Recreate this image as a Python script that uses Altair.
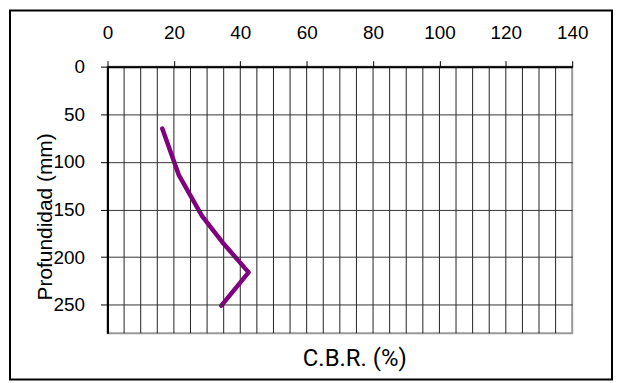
import altair as alt
import pandas as pd

# Data
cbr = [16.5, 21.5, 28.5, 35.0, 42.5, 34.3]        # C.B.R. (%)
depth = [65, 114, 157, 186, 216, 251]              # Profundidad (mm)
x_ticks = [0, 20, 40, 60, 80, 100, 120, 140]
y_ticks = [0, 50, 100, 150, 200, 250]
x_grid = [5, 10, 15, 20, 25, 30, 35, 40, 45, 50, 55, 60, 65, 70, 75, 80,
          85, 90, 95, 100, 105, 110, 115, 120, 125, 130, 135]

df = pd.DataFrame({"cbr": cbr, "depth": depth, "order": list(range(len(cbr)))})
grid_df = pd.DataFrame({"gx": x_grid})

xscale = alt.Scale(domain=[0, 140], nice=False, zero=False)
yscale = alt.Scale(domain=[0, 280], nice=False, reverse=True, zero=False)

x_axis = alt.Axis(
    orient="top", values=x_ticks, grid=False,
    domainColor="black", domainWidth=2,
    tickColor="black", tickSize=6, tickWidth=1,
    labelFont="Liberation Sans", labelFontSize=19, labelColor="black",
    labelPadding=22, labelBaseline="alphabetic", labelFlush=False, labelOverlap=False,
    title="C.B.R. (%)", titleFont="Roboto", titleFontSize=24, titleFontWeight="normal",
    titleColor="black", titleX=248, titleY=300.7, titleBaseline="alphabetic",
    titleAlign="center", zindex=1,
)
y_axis = alt.Axis(
    orient="left", values=y_ticks, grid=True, gridColor="#333333", gridWidth=1, gridOpacity=1,
    domainColor="black", domainWidth=2,
    tickColor="black", tickSize=7, tickWidth=1,
    labelFont="Liberation Sans", labelFontSize=19, labelColor="black",
    labelPadding=16, labelFlush=False, labelOverlap=False,
    title="Profundidad (mm)", titleFont="Liberation Sans", titleFontSize=21,
    titleFontWeight="normal", titleColor="black", titleX=-56.6, titleY=150.5,
    titleBaseline="alphabetic", titleAlign="center", titleAngle=270, zindex=1,
)

vgrid = alt.Chart(grid_df).mark_rule(color="#222222", strokeWidth=1).encode(
    x=alt.X("gx:Q", scale=xscale, axis=x_axis),
)

line = alt.Chart(df).mark_line(color="#800080", strokeWidth=4.5, strokeCap="round",
                               strokeJoin="round").encode(
    x=alt.X("cbr:Q", scale=xscale, axis=x_axis),
    y=alt.Y("depth:Q", scale=yscale, axis=y_axis),
    order="order:Q",
)

frame = alt.Chart(pd.DataFrame({"a": [0]})).mark_rect(
    filled=False, stroke="black", strokeWidth=2, fillOpacity=0
).encode(
    x=alt.value(-98), x2=alt.value(507), y=alt.value(-56.5), y2=alt.value(314.5)
)

chart = alt.layer(vgrid, line, frame).properties(
    width=467, height=268,
    autosize=alt.AutoSizeParams(type="none"),
    padding={"left": 100, "top": 58, "right": 41, "bottom": 48},
    background="white",
).configure_view(stroke="#999999", strokeWidth=2)

chart.save("out.html", embed_options={"renderer": "svg", "actions": False})
